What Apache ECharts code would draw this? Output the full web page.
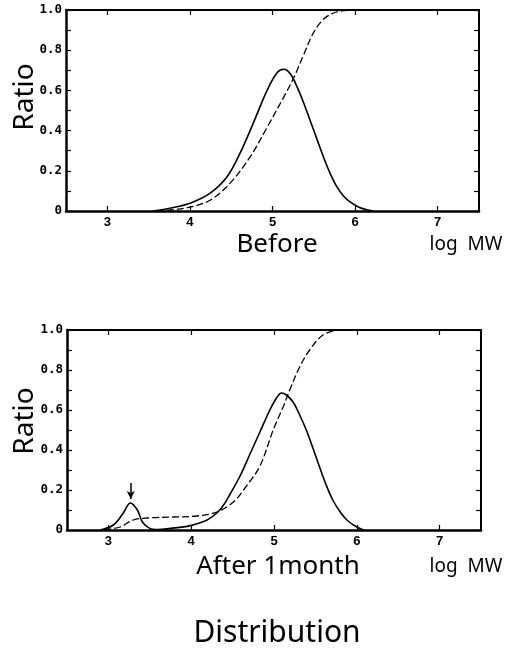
<!DOCTYPE html>
<html><head><meta charset="utf-8">
<script src="https://cdn.jsdelivr.net/npm/echarts@6/dist/echarts.min.js"></script>
<style>html,body{margin:0;padding:0;background:#fff}#c{width:511px;height:655px}</style>
</head><body><div id="c"></div>
<script>
const xTicks = [3, 4, 5, 6, 7];
const yTicks = [0, 0.1, 0.2, 0.3, 0.4, 0.5, 0.6, 0.7, 0.8, 0.9, 1.0];
const yLabels = [0, 0.2, 0.4, 0.6, 0.8, 1.0];
const panelTitles = ['Before', 'After 1month'];
const xUnit = 'log  MW';
const yName = 'Ratio';
const mainTitle = 'Distribution';

const beforeDist = [[3.55,0],[3.77,0.015],[4.01,0.04],[4.25,0.09],[4.45,0.17],[4.61,0.29],[4.77,0.44],[4.94,0.605],[5.06,0.69],[5.14,0.705],[5.22,0.68],[5.30,0.615],[5.38,0.535],[5.46,0.445],[5.54,0.355],[5.62,0.265],[5.70,0.185],[5.78,0.12],[5.86,0.075],[5.94,0.045],[6.04,0.02],[6.14,0.006],[6.22,0]];
const beforeCum = [[3.6,0],[3.77,0.005],[4.01,0.02],[4.25,0.055],[4.49,0.14],[4.73,0.27],[4.94,0.42],[5.14,0.57],[5.26,0.665],[5.38,0.78],[5.50,0.89],[5.62,0.955],[5.74,0.985],[5.86,0.997],[6.0,1.0]];
const afterDist = [[2.9,0],[3.06,0.025],[3.18,0.085],[3.265,0.135],[3.35,0.10],[3.41,0.04],[3.5,0.008],[3.6,0.002],[3.75,0.008],[3.95,0.018],[4.1,0.035],[4.2,0.052],[4.31,0.085],[4.4,0.13],[4.47,0.18],[4.59,0.27],[4.71,0.38],[4.83,0.49],[4.95,0.6],[5.03,0.66],[5.09,0.685],[5.15,0.675],[5.23,0.64],[5.31,0.575],[5.39,0.50],[5.47,0.41],[5.55,0.315],[5.63,0.225],[5.71,0.15],[5.80,0.09],[5.88,0.05],[6.0,0.015],[6.08,0]];
const afterCum = [[2.95,0],[3.14,0.015],[3.30,0.05],[3.47,0.06],[3.78,0.065],[4.07,0.07],[4.31,0.09],[4.51,0.14],[4.65,0.21],[4.83,0.32],[4.99,0.50],[5.11,0.615],[5.19,0.70],[5.31,0.815],[5.43,0.90],[5.59,0.975],[5.75,1.0]];
const arrowFrom = [3.27, 0.235];
const arrowTo = [3.27, 0.155];

const chart = echarts.init(document.getElementById('c'));
const grids = [
  {left: 66, top: 10, width: 413, height: 201},
  {left: 67, top: 330, width: 414, height: 200}
];
const tickFont = 'DejaVu Sans Mono';
const textFont = 'Noto Sans';
function yFmt(v){ const r = Math.round(v*10); if (r === 0) return '0'; return (r/10).toFixed(1); }
const xAxes = [], yAxes = [];
grids.forEach((g, i) => {
  xAxes.push({
    type: 'value', gridIndex: i, min: 2.5, max: 7.5, position: 'bottom',
    axisLine: {show: true, onZero: false, lineStyle: {color: '#000', width: 2.5}},
    axisTick: {show: true, inside: true, length: 5, customValues: xTicks, lineStyle: {color: '#000', width: 1.2}},
    axisLabel: {show: true, customValues: xTicks, color: '#000', fontFamily: 'Liberation Sans', fontWeight: 'bold', fontSize: 13, margin: 5},
    splitLine: {show: false}
  });
  xAxes.push({
    type: 'value', gridIndex: i, min: 2.5, max: 7.5, position: 'top',
    axisLine: {show: true, onZero: false, lineStyle: {color: '#000', width: 2}},
    axisTick: {show: true, inside: true, length: 5, customValues: xTicks, lineStyle: {color: '#000', width: 1.2}},
    axisLabel: {show: false}, splitLine: {show: false}
  });
  yAxes.push({
    type: 'value', gridIndex: i, min: 0, max: 1, position: 'left',
    axisLine: {show: true, onZero: false, lineStyle: {color: '#000', width: 2.5}},
    axisTick: {show: true, inside: true, length: 5, customValues: yTicks, lineStyle: {color: '#000', width: 1.2}},
    axisLabel: {show: true, customValues: yLabels, formatter: yFmt, color: '#000', fontFamily: tickFont, fontWeight: 'bold', fontSize: 12.5, margin: 4},
    splitLine: {show: false}
  });
  yAxes.push({
    type: 'value', gridIndex: i, min: 0, max: 1, position: 'right',
    axisLine: {show: true, onZero: false, lineStyle: {color: '#000', width: 2}},
    axisTick: {show: true, inside: true, length: 5, customValues: yTicks, lineStyle: {color: '#000', width: 1.2}},
    axisLabel: {show: false}, splitLine: {show: false}
  });
});
function line(data, gi, dashed, extra){
  return Object.assign({
    type: 'line', xAxisIndex: gi*2, yAxisIndex: gi*2, data: data, smooth: 0.35,
    showSymbol: false, symbol: 'none', silent: true, animation: false,
    lineStyle: {color: '#000', width: dashed ? 1.3 : 1.6, type: dashed ? [7, 3] : 'solid'}
  }, extra || {});
}
function txt(text, x, y, size, rot){
  return {type: 'text', x: x, y: y, rotation: rot || 0,
    style: {text: text, fill: '#000', font: size + 'px "' + textFont + '"', textAlign: 'center', textVerticalAlign: 'middle'}};
}
chart.setOption({
  animation: false,
  backgroundColor: '#fff',
  grid: grids,
  xAxis: xAxes,
  yAxis: yAxes,
  graphic: [
    txt(yName, 25, 97, 28, Math.PI/2),
    txt(yName, 25, 421, 28, Math.PI/2),
    txt(panelTitles[0], 277, 245, 26),
    txt(panelTitles[1], 278, 567, 26),
    txt(xUnit, 466, 245, 19),
    txt(xUnit, 466, 567, 19),
    txt(mainTitle, 277, 633, 30)
  ],
  series: [
    line(beforeDist, 0, false),
    line(beforeCum, 0, true),
    line(afterDist, 1, false, {
      markLine: {silent: true, symbol: ['none', 'arrow'], symbolSize: [6, 8], label: {show: false},
        lineStyle: {color: '#000', width: 1.5, type: 'solid'},
        data: [[{coord: arrowFrom}, {coord: arrowTo}]]}
    }),
    line(afterCum, 1, true)
  ]
});
</script></body></html>
